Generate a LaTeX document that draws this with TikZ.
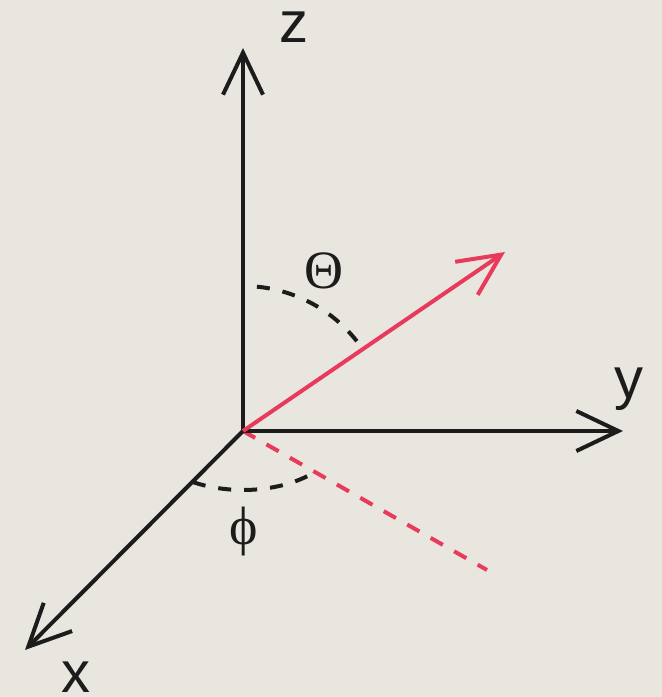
\documentclass[tikz,border=0pt]{standalone}
\usepackage{fontspec}
\setmainfont{Liberation Serif}
\newfontfamily\axfont{Liberation Sans}
\usetikzlibrary{arrows.meta,calc}
\definecolor{bg}{HTML}{E8E6DF}
\definecolor{vecred}{HTML}{E83A5B}
\definecolor{ink}{HTML}{1C1C1C}
\tikzset{
  axis/.style={draw=ink,line width=4pt,-{Straight Barb[length=42pt,width=40pt]}},
  vec/.style={draw=vecred,line width=4pt,-{Straight Barb[length=42pt,width=40pt]}},
  proj/.style={draw=vecred,line width=4pt,dash pattern=on 14pt off 13pt},
  angarc/.style={draw=ink,line width=4pt,dash pattern=on 13pt off 13pt},
  axlabel/.style={font=\axfont\fontsize{58}{60}\selectfont,text=ink,inner sep=0pt},
  anglabel/.style={font=\fontsize{54}{56}\selectfont,text=ink,inner sep=0pt}
}
\begin{document}
\begin{tikzpicture}[x=1pt,y=1pt]
\fill[bg] (0,0) rectangle (662,697);
\useasboundingbox (0,0) rectangle (662,697);
\coordinate (O) at (243,266);
\coordinate (Z) at (243,649);
\coordinate (Y) at (623,266);
\coordinate (X) at (25,47);
\coordinate (R) at (505,445);
\coordinate (P) at (487,127);
% projection
\draw[proj] (O) -- (P);
% axes
\draw[axis] (O) -- (Z);
\draw[axis] (O) -- (Y);
\draw[axis] (O) -- (X);
% vector
\draw[vec] (O) -- (R);
% angle arcs
\draw[angarc] ($(O)+(84.5:145)$) arc[start angle=84.5,end angle=35,radius=145];
\draw[angarc] ($(O)+(240:100 and 59)$) arc[start angle=240,end angle=310,x radius=100,y radius=59];
% labels
\node[axlabel,anchor=base] (zl) at (294,654) {z};
\node[axlabel,anchor=base] (yl) at (629,298) {y};
\node[axlabel,anchor=base] (xl) at (76,5) {x};
\node[anglabel] (th) at (324,426) {Θ};
\node[anglabel] (ph) at (244,165) {ϕ};
\end{tikzpicture}
\end{document}
